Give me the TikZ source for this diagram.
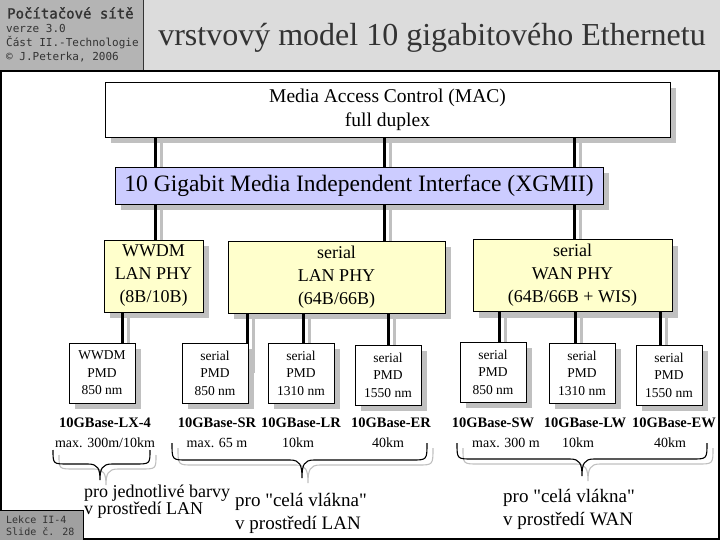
\documentclass[tikz,border=0pt]{standalone}
\usepackage{fontspec}
\setmainfont{Liberation Serif}
\newfontfamily\monofont{DejaVu Sans Mono}
\newfontfamily\coursefont[FakeBold=1.6]{DejaVu Sans Mono}
\usetikzlibrary{shadows,backgrounds}
\definecolor{headgray}{HTML}{DCDCDC}
\definecolor{tabgray}{HTML}{B4B4B4}
\definecolor{footgray}{HTML}{A0A0A0}
\definecolor{shadowgray}{HTML}{C0C0C0}
\definecolor{phyyellow}{HTML}{FFFFCC}
\definecolor{xgmiiblue}{HTML}{CCCCFF}
\definecolor{inkgray}{HTML}{333333}
\tikzset{
  layerbox/.style={draw, line width=0.8pt, inner sep=0pt, align=center,
    drop shadow={shadow xshift=6pt, shadow yshift=-6pt, fill=shadowgray, opacity=1}},
  macbox/.style={layerbox, fill=white, minimum width=565pt, minimum height=55pt,
    font=\fontsize{19.5}{24}\selectfont},
  xgmiibox/.style={layerbox, fill=xgmiiblue, minimum width=488pt, minimum height=37pt,
    font=\fontsize{23.5}{26}\selectfont},
  phybox/.style={layerbox, fill=phyyellow, minimum height=72pt,
    font=\fontsize{18}{23}\selectfont},
  pmdbox/.style={layerbox, fill=white, minimum width=66pt, minimum height=60pt,
    font=\fontsize{13.5}{17.5}\selectfont},
  wire/.style={line width=3pt},
  wireshadow/.style={line width=3pt, shadowgray},
  basename/.style={inner sep=0pt, font=\bfseries\fontsize{14.5}{16}\selectfont},
  reach/.style={inner sep=0pt, font=\fontsize{14}{16}\selectfont},
  headtext/.style={anchor=west, inner sep=0pt, text=inkgray},
  note/.style={anchor=west, inner sep=0pt, align=left}
}
\begin{document}
\begin{tikzpicture}[x=1pt,y=-1pt]
\useasboundingbox (0,0) rectangle (720,540);
% header
\fill[tabgray] (0,0) rectangle (143,70);
\fill[headgray] (143,0) rectangle (720,70);
\draw[inkgray] (143,0) -- (143,70);
\node[headtext, font={\coursefont\fontsize{14}{14}\selectfont}] (course) at (7,13) {Počítačové sítě};
\node[headtext, font={\monofont\fontsize{11}{11}\selectfont}] (version) at (6,28) {verze 3.0};
\node[headtext, font={\monofont\fontsize{11}{11}\selectfont}] (part) at (6,43) {Část II.-Technologie};
\node[headtext, font={\monofont\fontsize{11}{11}\selectfont}] (author) at (6,57) {© J.Peterka, 2006};
\node[inner sep=0pt, text=inkgray, font=\fontsize{32}{32}\selectfont] (title) at (432,38)
  {vrstvový model 10 gigabitového Ethernetu};
\draw[line width=2pt] (1,71) rectangle (719,539);

% layers
\node[macbox] (mac) at (387.5,109.5) {Media Access Control (MAC)\\full duplex};
\node[xgmiibox] (xgmii) at (359,185.5) {10 Gigabit Media Independent Interface (XGMII)};
\node[phybox, minimum width=99pt] (wwdmphy) at (153.5,276) {WWDM\\LAN PHY\\(8B/10B)};
\node[phybox, minimum width=217pt] (lanphy) at (336.5,277) {serial\\LAN PHY\\(64B/66B)};
\node[phybox, minimum width=199pt] (wanphy) at (572.5,275.5) {serial\\WAN PHY\\(64B/66B + WIS)};
\foreach \n/\x/\y/\kind/\wave in {1/102/373/WWDM/850, 2/215/373/serial/850,
    3/301/373/serial/1310, 4/388/375/serial/1550, 5/493/372/serial/850,
    6/582/373/serial/1310, 7/669/375/serial/1550}
  \node[pmdbox] (pmd\n) at (\x,\y) {\kind\\PMD\\\wave~nm};

% connectors
\coordinate (c1) at (155,0);
\coordinate (c2) at (384,0);
\coordinate (c3) at (574,0);
\begin{scope}[on background layer]
  \foreach \c/\phy in {c1/wwdmphy, c2/lanphy, c3/wanphy} {
    \draw[wireshadow] ([xshift=6pt]mac.center -| \c) -- ([xshift=6pt]\phy.center -| \c);
  }
  \foreach \phy/\pmd/\x in {wwdmphy/pmd1/122, lanphy/pmd2/247, lanphy/pmd3/303,
      lanphy/pmd4/388, wanphy/pmd5/499, wanphy/pmd6/575, wanphy/pmd7/660} {
    \coordinate (ws) at (\x+6,0);
    \draw[wireshadow] (\phy.center -| ws) -- (\pmd.center -| ws);
  }
\end{scope}
\foreach \c/\phy in {c1/wwdmphy, c2/lanphy, c3/wanphy} {
  \draw[wire] (mac.south -| \c) -- (xgmii.north -| \c);
  \draw[wire] (xgmii.south -| \c) -- (\phy.north -| \c);
}
\foreach \phy/\pmd/\x in {wwdmphy/pmd1/122, lanphy/pmd2/247, lanphy/pmd3/303,
    lanphy/pmd4/388, wanphy/pmd5/499, wanphy/pmd6/575, wanphy/pmd7/660} {
  \coordinate (w) at (\x,0);
  \draw[wire] (\phy.south -| w) -- (\pmd.north -| w);
}

% names and reach
\foreach \n/\x/\name in {lx/105/LX-4, sr/217/SR, lr/301/LR, er/391/ER,
    sw/493/SW, lw/585/LW, ew/674/EW}
  \node[basename] (name\n) at (\x,423) {10GBase-\name};
\foreach \n/\x/\dist in {lx/105/{max. 300m/10km}, sr/217/max. 65 m, lr/298/10km,
    er/388/40km, sw/506/max. 300 m, lw/578/10km, ew/670/40km}
  \node[reach] (reach\n) at (\x,443) {\dist};

% braces
\foreach \xa/\xc/\xb/\yt/\ym/\yb in {53/100/150/450/464/480,
    172/302/427/443/460/478, 457/582/707/443/459/476} {
  \foreach \dx/\dy/\col in {6/5/shadowgray, 0/0/black}
    \draw[\col, line width=1.1pt, shift={(\dx,\dy)}]
      (\xa,\yt) .. controls (\xa,\ym) .. (\xa+15,\ym) -- (\xc-12,\ym)
      .. controls (\xc-2,\ym) and (\xc,\ym+5) .. (\xc,\yb)
      .. controls (\xc,\ym+5) and (\xc+2,\ym) .. (\xc+12,\ym) -- (\xb-15,\ym)
      .. controls (\xb,\ym) .. (\xb,\yt);
}
\node[note, font=\fontsize{18}{17}\selectfont] (colours) at (84,502)
  {pro jednotlivé barvy\\v prostředí LAN};
\node[note, font=\fontsize{19}{23}\selectfont] (lanfibre) at (235,513)
  {pro \textquotedbl celá vlákna\textquotedbl\\v prostředí LAN};
\node[note, font=\fontsize{19}{23}\selectfont] (wanfibre) at (503,509)
  {pro \textquotedbl celá vlákna\textquotedbl\\v prostředí WAN};

% footer
\fill[footgray] (0,510) rectangle (83,540);
\draw (0,510) -- (83,510) -- (83,540);
\node[headtext, font={\monofont\fontsize{10}{10}\selectfont}] (lesson) at (6,520) {Lekce II-4};
\node[headtext, font={\monofont\fontsize{10}{10}\selectfont}] (slide) at (6,532) {Slide č. 28};
\end{tikzpicture}
\end{document}
